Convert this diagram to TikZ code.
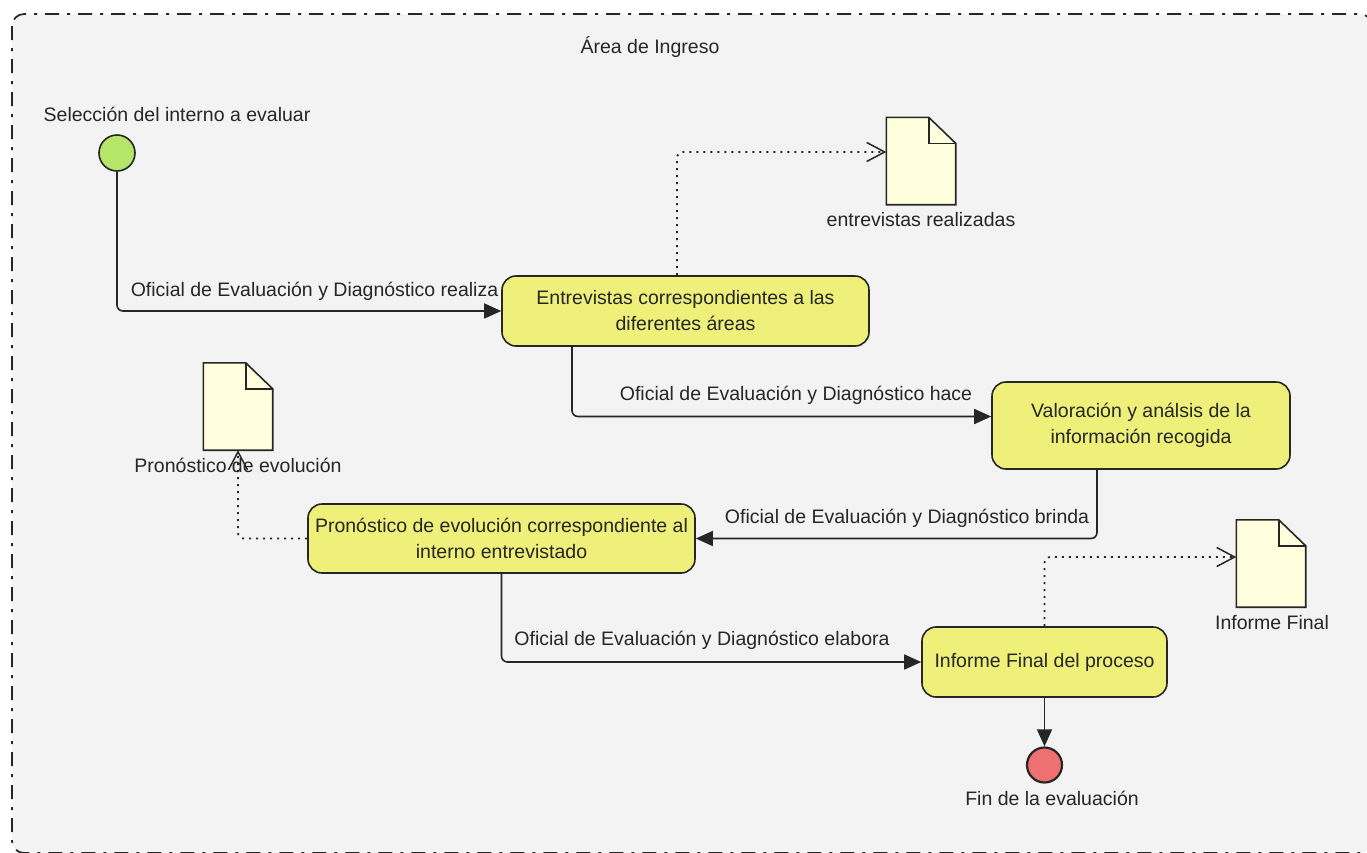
\documentclass[tikz,border=0pt]{standalone}
\usepackage{fontspec}
\setmainfont{Liberation Sans}
\usetikzlibrary{arrows.meta}

\definecolor{bggray}{RGB}{243,243,243}
\definecolor{actfill}{RGB}{238,240,122}
\definecolor{docfill}{RGB}{255,255,222}
\definecolor{startfill}{RGB}{181,230,105}
\definecolor{endfill}{RGB}{238,112,112}
\definecolor{ink}{RGB}{38,38,38}

% document icon: box with a folded top-right corner
\newcommand{\drawdoc}[2]{%
  \node[docbox] (#1) at (#2) {};
  \filldraw[docline, fill=docfill]
    (#1.south west) -- (#1.north west) -- ([xshift=-27pt]#1.north east)
    -- ([yshift=-26pt]#1.north east) -- (#1.south east) -- cycle;
  \draw[docline] ([xshift=-27pt]#1.north east) |- ([yshift=-26pt]#1.north east);
}

\begin{document}
\begin{tikzpicture}[x=1pt,y=-1pt,
  txt/.style={font=\fontsize{19.5}{26}\selectfont, text=ink, inner sep=0pt},
  act/.style={txt, draw=ink, line width=1.6pt, fill=actfill,
              rounded corners=14pt, align=center},
  docbox/.style={minimum width=69pt, minimum height=87pt, inner sep=0pt},
  docline/.style={draw=ink, line width=1.6pt, line join=miter},
  startnode/.style={circle, draw=ink, line width=1.6pt, fill=startfill,
                    minimum size=36pt, inner sep=0pt},
  endnode/.style={circle, draw=ink, line width=2.2pt, fill=endfill,
                  minimum size=35pt, inner sep=0pt},
  flow/.style={draw=ink, line width=1.6pt, rounded corners=6pt,
               -{Triangle[length=17pt,width=15pt]}},
  objflow/.style={draw=ink, line width=1.8pt, rounded corners=6pt,
                  dash pattern=on 2pt off 5pt,
                  -{Straight Barb[length=18pt,width=19pt,line width=1.5pt]}},
  frame/.style={draw=ink, line width=1.7pt, fill=bggray, rounded corners=12pt,
                dash pattern=on 14pt off 8pt on 3pt off 8pt}
]
\useasboundingbox (0,0) rectangle (1367,852);
\fill[white] (0,0) rectangle (1367,852);

% swimlane region
\path[frame] (12,14) rectangle (1372,853);
\node[txt] (title) at (650,47) {Área de Ingreso};

% initial and final nodes
\node[startnode] (start) at (117,153) {};
\node[txt] (startlbl) at (177,114) {Selección del interno a evaluar};
\node[endnode] (end) at (1044.5,765) {};
\node[txt] (endlbl) at (1052,798) {Fin de la evaluación};

% activities
\node[act, minimum width=367pt, minimum height=70pt] (act1) at (685.5,311)
  {Entrevistas correspondientes a las\\diferentes áreas};
\node[act, minimum width=298pt, minimum height=87pt] (act2) at (1141,425.5)
  {Valoración y análsis de la\\información recogida};
\node[act, minimum width=387pt, minimum height=69pt] (act3) at (501.5,538.5)
  {Pronóstico de evolución correspondiente al\\interno entrevistado};
\node[act, minimum width=245pt, minimum height=70pt] (act4) at (1044.5,662)
  {Informe Final del proceso};

% object nodes
\drawdoc{doc1}{921,161}
\node[txt] (doc1lbl) at (921,220) {entrevistas realizadas};
\drawdoc{doc2}{238,406.5}
\node[txt] (doc2lbl) at (238,465) {Pronóstico de evolución};
\drawdoc{doc3}{1271,563.5}
\node[txt] (doc3lbl) at (1272,623) {Informe Final};

% control flows
\draw[flow] (start.south) |- (act1.west);
\node[txt] (f1lbl) at (314.5,291) {Oficial de Evaluación y Diagnóstico realiza};
\draw[flow] ([xshift=-113.5pt]act1.south) |- ([yshift=9pt]act2.west);
\node[txt] (f2lbl) at (796,395) {Oficial de Evaluación y Diagnóstico hace};
\draw[flow] ([xshift=-44pt]act2.south) |- (act3.east);
\node[txt] (f3lbl) at (907,518) {Oficial de Evaluación y Diagnóstico brinda};
\draw[flow] (act3.south) |- (act4.west);
\node[txt] (f4lbl) at (702,640) {Oficial de Evaluación y Diagnóstico elabora};
\draw[flow] (act4.south) -- (end.north);

% object flows
\draw[objflow] ([xshift=-8.5pt]act1.north) |- ([yshift=9pt]doc1.west);
\draw[objflow] (act3.west) -| (doc2.south);
\draw[objflow] (act4.north) |- ([yshift=6.5pt]doc3.west);
\end{tikzpicture}
\end{document}
